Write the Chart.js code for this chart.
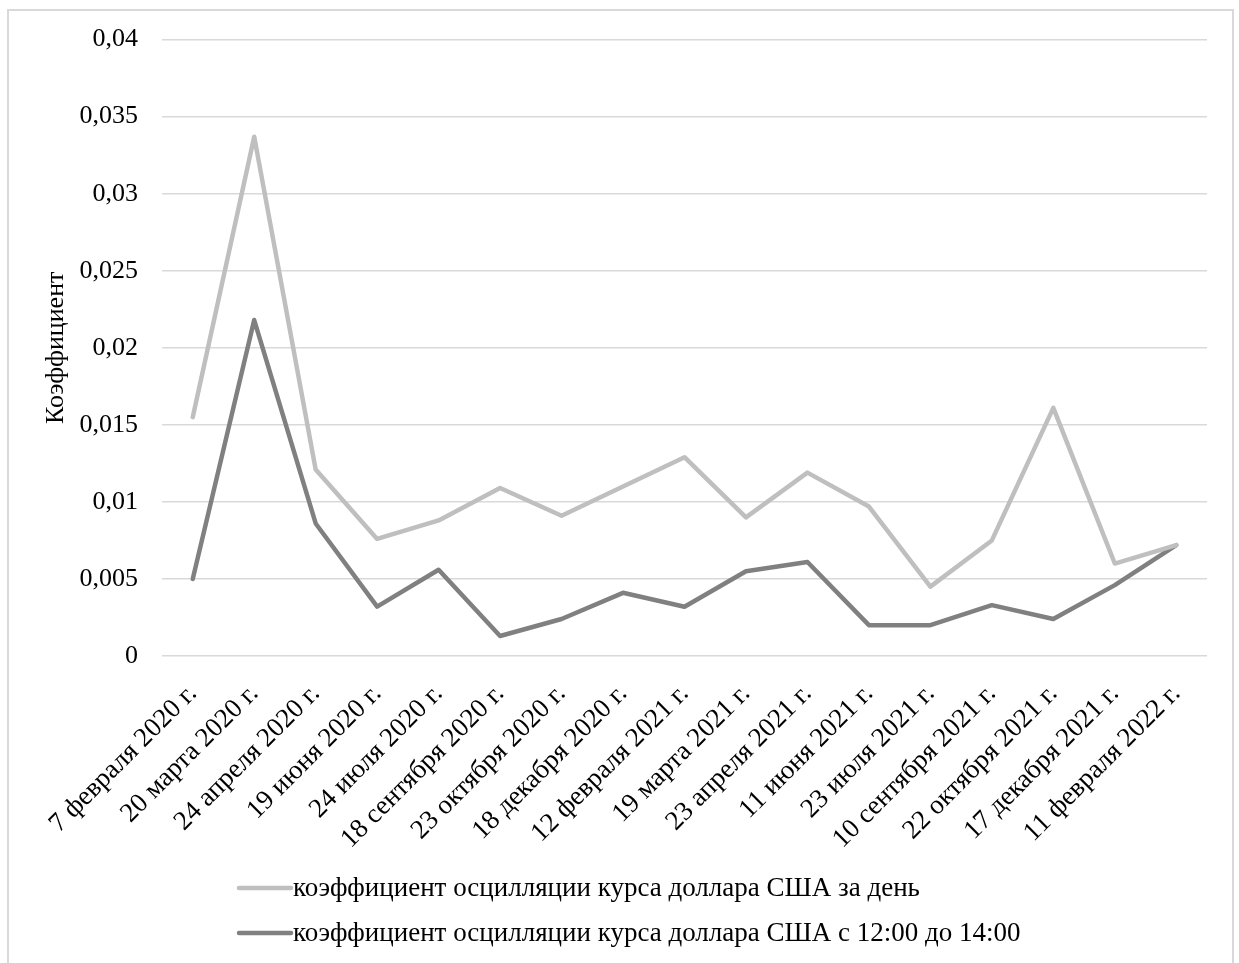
<!DOCTYPE html>
<html>
<head>
<meta charset="utf-8">
<script src="https://cdn.jsdelivr.net/npm/chart.js@4.4.1/dist/chart.umd.min.js"></script>
<style>
  html, body { margin: 0; padding: 0; background: #fff; overflow: hidden; }
  #frame { position: absolute; left: 7px; top: 9px; width: 1227px; height: 980px; border: 2px solid #d9d9d9; box-sizing: border-box; }
  #c { position: absolute; left: 0; top: 0; }
</style>
</head>
<body>
<div id="frame"></div>
<canvas id="c" width="1239" height="963"></canvas>
<script>
const categories = [
  "7 февраля 2020 г.", "20 марта 2020 г.", "24 апреля 2020 г.", "19 июня 2020 г.",
  "24 июля 2020 г.", "18 сентября 2020 г.", "23 октября 2020 г.", "18 декабря 2020 г.",
  "12 февраля 2021 г.", "19 марта 2021 г.", "23 апреля 2021 г.", "11 июня 2021 г.",
  "23 июля 2021 г.", "10 сентября 2021 г.", "22 октября 2021 г.", "17 декабря 2021 г.",
  "11 февраля 2022 г."
];
const dayValues = [
  0.0155, 0.0337, 0.0121, 0.0076, 0.0088, 0.0109, 0.0091, 0.0110,
  0.0129, 0.0090, 0.0119, 0.0097, 0.0045, 0.0075, 0.0161, 0.0060, 0.0072
];
const middayValues = [
  0.0050, 0.0218, 0.0086, 0.0032, 0.0056, 0.0013, 0.0024, 0.0041,
  0.0032, 0.0055, 0.0061, 0.0020, 0.0020, 0.0033, 0.0024, 0.0046, 0.0072
];
const seriesLabels = [
  "коэффициент осцилляции курса доллара США за день",
  "коэффициент осцилляции курса доллара США с 12:00 до 14:00"
];
const yTitle = "Коэффициент";

const FONT = "'Liberation Serif', 'Times New Roman', serif";

const legendPlugin = {
  id: 'customLegend',
  afterDraw(chart) {
    const ctx = chart.ctx;
    const rows = [888, 933];
    ctx.save();
    chart.data.datasets.forEach((ds, i) => {
      const y = rows[i];
      ctx.strokeStyle = ds.borderColor;
      ctx.lineWidth = 4.5;
      ctx.lineCap = 'round';
      ctx.beginPath();
      ctx.moveTo(239, y);
      ctx.lineTo(291, y);
      ctx.stroke();
      ctx.fillStyle = '#000';
      ctx.font = "27px " + FONT;
      ctx.textBaseline = 'middle';
      ctx.textAlign = 'left';
      ctx.fillText(ds.label, 293, y + 1);
    });
    ctx.restore();
  }
};

new Chart(document.getElementById('c'), {
  type: 'line',
  data: {
    labels: categories,
    datasets: [
      { label: seriesLabels[0], data: dayValues, borderColor: '#bfbfbf', backgroundColor: '#bfbfbf',
        borderWidth: 4.5, pointRadius: 0, tension: 0, borderCapStyle: 'round', borderJoinStyle: 'round' },
      { label: seriesLabels[1], data: middayValues, borderColor: '#808080', backgroundColor: '#808080',
        borderWidth: 4.5, pointRadius: 0, tension: 0, borderCapStyle: 'round', borderJoinStyle: 'round' }
    ]
  },
  options: {
    responsive: false,
    animation: false,
    devicePixelRatio: 1,
    layout: { padding: { left: 41, right: 32, top: 39, bottom: 107 } },
    plugins: { legend: { display: false }, tooltip: { enabled: false } },
    scales: {
      x: {
        offset: true,
        grid: { display: false, drawTicks: false },
        border: { display: false },
        ticks: { color: '#000', font: { family: FONT, size: 27 }, maxRotation: 45, minRotation: 45, padding: 22, autoSkip: false },
        afterFit(s) { s.height = 200; }
      },
      y: {
        min: 0, max: 0.04,
        grid: { color: '#d9d9d9', lineWidth: 1.5, drawTicks: false },
        border: { display: false },
        ticks: {
          stepSize: 0.005, color: '#000', padding: 24,
          font: { family: FONT, size: 26 },
          callback: v => Number(v.toFixed(3)).toString().replace('.', ',')
        },
        title: { display: true, text: yTitle, color: '#000', font: { family: FONT, size: 26 }, padding: { top: 0, bottom: 7 } },
        afterFit(s) { s.width = 121; }
      }
    }
  },
  plugins: [legendPlugin]
});
</script>
</body>
</html>
